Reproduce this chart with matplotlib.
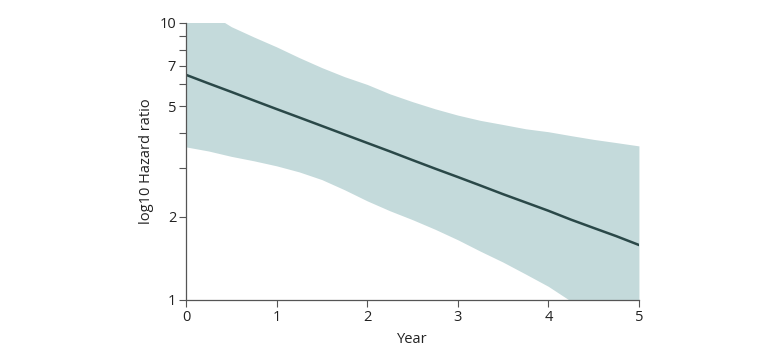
import numpy as np
import matplotlib.pyplot as plt
from matplotlib.ticker import FixedLocator, NullFormatter

# values
years = [0, 0.25, 0.5, 0.75, 1, 1.25, 1.5, 1.75, 2, 2.25, 2.5, 2.75,
         3, 3.25, 3.5, 3.75, 4, 4.25, 4.5, 4.75, 5]
hazard_ratio = [6.5, 6.05, 5.64, 5.25, 4.89, 4.56, 4.25, 3.96, 3.69, 3.44, 3.2,
                2.98, 2.78, 2.59, 2.41, 2.25, 2.10, 1.95, 1.82, 1.70, 1.58]
ci_upper = [12.0, 10.9, 9.7, 8.9, 8.2, 7.5, 6.9, 6.4, 6.0, 5.55, 5.2, 4.9,
            4.65, 4.45, 4.3, 4.15, 4.05, 3.92, 3.8, 3.7, 3.6]
ci_lower = [3.57, 3.45, 3.3, 3.18, 3.05, 2.9, 2.72, 2.5, 2.28, 2.1, 1.95, 1.8,
            1.65, 1.5, 1.37, 1.24, 1.12, 0.99, 0.88, 0.8, 0.72]

y_major = [1, 2, 5, 7, 10]
y_minor = [3, 4, 6, 8, 9]
x_ticks = [0, 1, 2, 3, 4, 5]

plt.rcParams['font.family'] = ['Open Sans', 'DejaVu Sans']

fig = plt.figure(figsize=(7.83, 3.57), dpi=100)
ax = fig.add_axes([0.2375, 0.1597, 0.5785, 0.7759])

ax.fill_between(years, ci_lower, ci_upper, color='#c4dadb', linewidth=0)
ax.plot(years, hazard_ratio, color='#2a4848', linewidth=1.8)

ax.set_yscale('log')
ax.set_ylim(1, 10)
ax.set_xlim(0, 5)
ax.yaxis.set_major_locator(FixedLocator(y_major))
ax.yaxis.set_minor_locator(FixedLocator(y_minor))
ax.yaxis.set_minor_formatter(NullFormatter())
ax.set_yticklabels([str(v) for v in y_major])
ax.set_xticks(x_ticks)

for side in ['top', 'right']:
    ax.spines[side].set_visible(False)
for side in ['left', 'bottom']:
    ax.spines[side].set_color('#555555')
    ax.spines[side].set_linewidth(0.9)

ax.tick_params(axis='both', which='both', colors='#555555', labelcolor='#222222',
               labelsize=10.5, length=5, width=0.8, pad=2)

ax.set_xlabel('Year', fontsize=10.5, color='#222222', labelpad=5)
ax.set_ylabel('log10 Hazard ratio', fontsize=10.5, color='#222222', labelpad=4)

fig.savefig('out.png', dpi=100)
